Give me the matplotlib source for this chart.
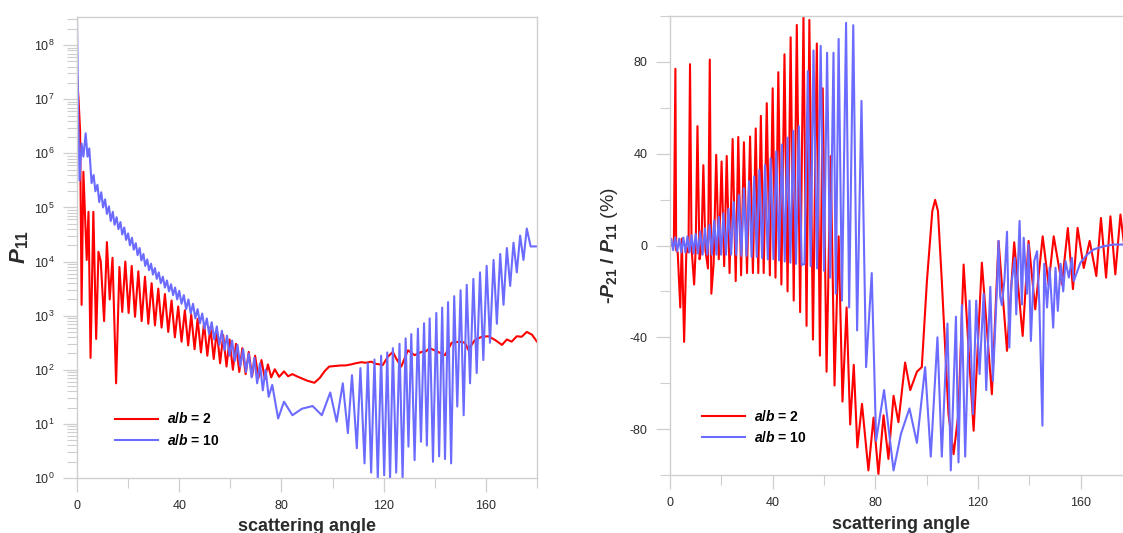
import numpy as np
import matplotlib
matplotlib.use("Agg")
import matplotlib.pyplot as plt
from matplotlib.ticker import LogLocator, MultipleLocator, NullFormatter

plt.rcParams['font.family'] = ['Liberation Sans', 'DejaVu Sans']
plt.rcParams['axes.unicode_minus'] = False
plt.rcParams['mathtext.fontset'] = 'custom'
plt.rcParams['mathtext.rm'] = 'Liberation Sans'
plt.rcParams['mathtext.it'] = 'Liberation Sans:italic'
plt.rcParams['mathtext.bf'] = 'Liberation Sans:bold'
plt.rcParams['mathtext.bfit'] = 'Liberation Sans:bold:italic'

# ---------------- data ----------------
# Left panel: P11 (log10 values) versus scattering angle (deg)
red_p11_angle = [0, 0.6, 1.2, 1.8, 2.5, 3.8, 4.5, 5.3, 6.4, 7.5, 8.4, 9.3, 10.6, 11.7, 12.8, 13.9, 15.3,
                 16.6, 17.7, 18.9, 20.2, 21.4, 22.7, 24.0, 25.3, 26.6, 27.9, 29.2, 30.5, 31.8, 33.1, 34.4,
                 35.7, 37.0, 38.3, 39.6, 40.9, 42.2, 43.5, 44.7, 46.0, 47.2, 48.5, 49.7, 51.0, 52.2, 53.5,
                 54.7, 56.0, 57.2, 58.5, 59.7, 61.0, 62.2, 63.5, 64.7, 66.0, 67.2, 68.5, 69.7, 71.0, 72.2,
                 73.5, 74.7, 76.0, 77.4, 79.1, 81.0, 82.6, 84.3, 86, 88, 90, 92.9, 95, 97, 98.7, 101, 103.3,
                 105, 107.3, 109, 111.2, 113, 115.1, 117, 119.7, 121.6, 123.6, 125, 126.9, 129.5, 132.1,
                 134.8, 136.5, 138, 141.3, 144, 146.6, 149.8, 151.8, 153.1, 155.7, 158.4, 161, 163.6, 166.3,
                 168.2, 170.1, 172.1, 174, 176, 178, 180]
red_p11_log = [7.45, 7.0, 6.43, 3.2, 5.66, 4.03, 4.92, 2.22, 4.92, 2.57, 4.18, 4.0, 2.9, 4.36, 3.3, 4.07, 1.75,
               3.9, 3.07, 4.0, 3.05, 3.92, 2.98, 3.82, 2.9, 3.72, 2.85, 3.6, 2.82, 3.5, 2.78, 3.4,
               2.7, 3.28, 2.6, 3.17, 2.52, 3.1, 2.45, 3.02, 2.38, 2.94, 2.32, 2.86, 2.26, 2.79, 2.2,
               2.72, 2.12, 2.64, 2.06, 2.56, 2.0, 2.48, 1.96, 2.4, 1.92, 2.33, 1.88, 2.26, 1.85, 2.18,
               1.83, 2.1, 1.86, 2.01, 1.87, 1.97, 1.88, 1.92, 1.88, 1.84, 1.8, 1.76, 1.85, 1.98, 2.06, 2.07, 2.08,
               2.08, 2.1, 2.12, 2.14, 2.13, 2.15, 2.11, 2.09, 2.24, 2.33, 2.2, 2.06, 2.36, 2.27,
               2.33, 2.34, 2.4, 2.33, 2.27, 2.5, 2.52, 2.5, 2.37, 2.55, 2.61, 2.62, 2.55, 2.46,
               2.56, 2.52, 2.62, 2.61, 2.7, 2.65, 2.52]

blue_p11_angle = [0, 0.5, 1.0, 1.8, 2.5, 3.4, 4.1, 4.8, 5.7, 6.5, 7.2, 8.0, 8.7, 9.5, 10.2, 11.0, 11.7, 12.5,
                  13.2, 14.0, 14.7, 15.5, 16.2, 17.0, 17.7, 18.5, 19.2, 20.0, 20.7, 21.5, 22.2, 23.0, 23.7,
                  24.5, 25.2, 26.0, 26.7, 27.5, 28.2, 29.0, 29.7, 30.5, 31.2, 32.0, 32.8, 33.6, 34.4, 35.2,
                  36.0, 36.8, 37.6, 38.4, 39.2, 40.0, 40.9, 41.8, 42.7, 43.6, 44.5, 45.4, 46.3, 47.2, 48.1,
                  49.0, 49.9, 50.8, 51.7, 52.7, 53.7, 54.7, 55.7, 56.7, 57.7, 58.7, 59.7, 60.7, 61.7, 62.8,
                  63.9, 65.0, 66.1, 67.2, 68.3, 69.4, 70.5, 71.6, 72.7, 73.8, 75.0, 76.4, 78.7, 81.0, 84.3,
                  88.0, 92.2, 95.8, 99.1, 101.6, 104.0, 106.0, 107.6, 109.5, 110.9, 112.5, 113.8, 115.1,
                  116.4, 117.7, 119.0, 120.2, 121.4, 122.5, 123.6, 124.9, 126.2, 127.4, 128.6, 129.7, 130.8,
                  132.1, 133.4, 134.6, 135.8, 136.9, 138.0, 139.3, 140.6, 141.7, 142.9, 144.0, 145.2, 146.4,
                  147.6, 148.8, 150.1, 151.3, 152.5, 153.8, 155.1, 156.4, 157.7, 159.0, 160.3, 161.6, 163.0,
                  164.3, 165.6, 166.9, 168.2, 169.5, 170.8, 172.1, 173.4, 174.7, 176.0, 177.5, 180.0]
blue_p11_log = [8.5, 6.6, 5.5, 6.18, 5.94, 6.37, 5.94, 6.09, 5.45, 5.6, 5.3, 5.42, 5.1, 5.28, 5.0, 5.15, 4.88, 5.02,
                4.75, 4.92, 4.68, 4.82, 4.6, 4.73, 4.5, 4.63, 4.4, 4.52, 4.3, 4.44, 4.22, 4.34, 4.12,
                4.25, 4.02, 4.14, 3.92, 4.04, 3.84, 3.96, 3.76, 3.88, 3.68, 3.8, 3.6, 3.72, 3.52, 3.65,
                3.45, 3.58, 3.38, 3.52, 3.3, 3.46, 3.22, 3.38, 3.12, 3.3, 3.04, 3.22, 2.95, 3.12, 2.86,
                3.04, 2.76, 2.95, 2.66, 2.88, 2.56, 2.8, 2.46, 2.72, 2.36, 2.63, 2.26, 2.54, 2.16, 2.46,
                2.06, 2.38, 1.96, 2.3, 1.86, 2.22, 1.75, 2.12, 1.62, 2.0, 1.5, 1.72, 1.10, 1.41, 1.16,
                1.28, 1.33, 1.16, 1.58, 1.04, 1.75, 0.83, 1.9, 0.55, 2.03, 0.27, 2.12, 0.1,
                2.19, 0.0, 2.26, 0.05, 2.32, 0.0, 2.40, 0.1, 2.48, 0.0, 2.58, 0.58, 2.66,
                0.33, 2.76, 0.67, 2.86, 0.6, 2.95, 0.3, 3.05, 0.4, 3.15, 0.35, 3.25, 0.27,
                3.36, 1.32, 3.47, 1.16, 3.57, 1.75, 3.68, 1.94, 3.8, 2.18, 3.92, 2.5, 4.03,
                2.85, 4.14, 3.2, 4.25, 3.55, 4.35, 3.8, 4.48, 4.03, 4.61, 4.28, 4.28]

# Right panel: -P21/P11 (%) versus scattering angle (deg)
red_pol_angle = [0, 1.5, 2.1, 2.4, 3.0, 4.0, 4.6, 5.5, 6.4, 7.2, 7.8, 8.4, 9.4, 10.0, 10.7, 11.5, 12.2, 13.0,
                 13.8, 14.8, 15.5, 16.1, 17.0, 18.0, 19.0, 20.1, 21.1, 22.1, 23.2, 24.4, 25.6, 26.6, 27.7,
                 28.8, 30.0, 31.2, 32.3, 33.4, 34.4, 35.4, 36.5, 37.7, 38.9, 40.0, 41.1, 42.2, 43.4, 44.6,
                 45.8, 47.0, 48.2, 49.4, 50.7, 52.0, 53.2, 54.3, 55.7, 57.2, 58.4, 59.5, 61.0, 62.6, 64.1,
                 65.7, 67.2, 68.8, 70.2, 71.6, 73.0, 74.8, 77.3, 79.3, 81.2, 83.2, 85.1, 87.1, 89.0, 91.6,
                 93.6, 96.2, 98.1, 100.1, 102.2, 103.3, 104.4, 105.9, 108.5, 110.5, 112.4, 114.4, 116.3,
                 118.3, 121.5, 125.4, 128.0, 131.3, 134.1, 137.4, 139.7, 142.3, 145.2, 147.5, 149.5, 152.7,
                 155.0, 157.0, 158.8, 161.2, 163.5, 166.1, 167.9, 169.9, 171.6, 173.5, 175.5, 177.5]
red_pol = [0, 0, 77, -2, -3, -27, 3, -42, -1, -3, 79, -1, -17, -2, 52, -6, -2, 35,
           -2, -10, 81, -21, -8, 39.5, -6, 36.6, -9, 39, -12, 46.4, -15.5, 47.3, -13,
           45, -12, 47.5, -12, 51, -12, 56.5, -12, 62, -13, 68.5, -14, 75.5, -17, 83.3,
           -20, 90.7, -24, 96.1, -29, 100, -35, 98.3, -41, 88, -48, 68.5, -55, 38.9, -61,
           4, -68, -27, -78, -52, -88, -69, -98, -75, -99.6, -74, -93, -65.5, -77, -51,
           -63, -55, -53, -15.5, 15, 19.9, 15, -15.5, -73.4, -90.9, -73, -8.3, -44.5,
           -80.7, -7.5, -64.8, 2, -45.9, 1.4, -39.4, 2, -27.8, 4, -17, 4, -17,
           7.6, -19, 7.7, -9.8, 2, -13.3, 12, -14, 12.7, -12.6, 13.5, -5]

blue_pol_angle = [0, 0.5, 1.2, 2.0, 2.8, 3.6, 4.4, 5.2, 6.0, 6.8, 7.6, 8.4, 9.2, 10.0, 10.9, 11.8, 12.7,
                  13.6, 14.5, 15.4, 16.3, 17.2, 18.1, 19.0, 19.9, 20.8, 21.8, 22.8, 23.8, 24.8, 25.8, 26.8,
                  27.8, 28.8, 29.8, 30.8, 31.8, 32.8, 33.8, 34.8, 35.9, 37.0, 38.1, 39.2, 40.3, 41.4, 42.5,
                  43.6, 44.7, 45.8, 46.9, 48.0, 49.1, 50.2, 51.3, 52.4, 53.7, 54.8, 55.9, 57.3, 58.7, 60.0,
                  61.2, 62.4, 63.7, 64.6, 65.7, 67.0, 68.6, 69.8, 71.4, 72.9, 74.6, 76.4, 78.6, 80.3, 83.4,
                  87.1, 90.0, 93.3, 96.2, 99.4, 101.6, 104.2, 105.9, 108.1, 109.4, 111.4, 112.4, 113.7, 115.0,
                  116.7, 118.0, 119.3, 120.6, 122.2, 123.2, 124.8, 125.8, 127.4, 128.0, 128.6, 129.3, 130.3,
                  131.3, 132.2, 133.0, 134.3, 134.9, 136.2, 137.1, 137.8, 139.1, 139.7, 140.6, 141.9, 143.0,
                  143.9, 145.1, 145.8, 146.9, 147.9, 149.3, 150.2, 151.1, 152.2, 153.2, 154.1, 155.4, 156.6,
                  157.3, 159.9, 162.5, 165.1, 169.0, 172.8, 176.6, 180.0]
blue_pol = [0, 3, -2, 3.5, -2.5, 3, -3, 3.5, -3, 4, -3, 4.5, -3.5, 5, -3.5, 6, -4,
            7.5, -4, 9, -4, 11, -4, 12.5, -4, 14, -4, 16, -4, 19, -4, 22,
            -4.5, 25, -4.5, 28, -5, 30, -5, 33, -5.5, 35, -6, 38, -6, 41, -6.5,
            44, -7, 47, -7.5, 50, -8, 52, -8.5, -8, 76, -9, 85, -10, 87, -11,
            84, -14, 84, -21, 90, -24, 97, -27, 96, -37, 63, -53, -12, -85, -63,
            -98, -82, -71, -86, -53, -92, -40, -92, -34, -98, -31, -94.5, -26, -92,
            -24, -73.5, -24, -56, -21, -63, -18, -59, -18, 2, -22, -26, -15,
            6, -44.5, -17, -5.4, -30, 10.7, -25.7, 3.4, -21, 0.4, -41.6, -6.8, -2.5,
            -25.7, -78.5, -8, -27, -9.7, -35.8, -9.7, -28.5, -8, -20, -6.8, -14, -5.4,
            -15.5, -7.5, -4, -1.7, -0.3, 0.4, 0.4, 0.5]

left_yticks_exp = [0, 1, 2, 3, 4, 5, 6, 7, 8]
x_major_ticks = [0, 40, 80, 120, 160]
right_yticks = [-80, -40, 0, 40, 80]
legend_labels = [r'$\mathbfit{a}\mathbf{/}\mathbfit{b}$ = 2', r'$\mathbfit{a}\mathbf{/}\mathbfit{b}$ = 10']

# ---------------- styling ----------------
RED = '#ff0000'
BLUE = '#6b6bff'
GRAY = '#cfcfcf'
TXT = '#2b2b2b'

fig = plt.figure(figsize=(11.23, 5.33), dpi=100)
axL = fig.add_axes([77 / 1123, 55 / 533, 460 / 1123, 461 / 533])
axR = fig.add_axes([670 / 1123, 58 / 533, 462 / 1123, 459 / 533])


def style_axes(ax):
    for s in ax.spines.values():
        s.set_color(GRAY)
        s.set_linewidth(1.0)
    ax.tick_params(which='both', direction='out', color=GRAY, labelcolor=TXT, labelsize=9)
    ax.tick_params(which='major', length=10, width=0.9, pad=6)
    ax.tick_params(which='minor', length=7, width=0.8)


# Left panel
axL.plot(red_p11_angle, 10 ** np.array(red_p11_log), color=RED, lw=1.5, label=legend_labels[0])
axL.plot(blue_p11_angle, 10 ** np.array(blue_p11_log), color=BLUE, lw=1.5, label=legend_labels[1])
axL.set_yscale('log')
axL.set_xlim(0, 180)
axL.set_ylim(1, 10 ** 8.52)
axL.set_yticks([10.0 ** e for e in left_yticks_exp])
axL.yaxis.set_minor_locator(LogLocator(base=10, subs=np.arange(2, 10), numticks=20))
axL.yaxis.set_minor_formatter(NullFormatter())
axL.set_xticks(x_major_ticks)
axL.xaxis.set_minor_locator(MultipleLocator(20))
style_axes(axL)
axL.set_xlabel('scattering angle', fontsize=13, fontweight='bold', color=TXT)
axL.xaxis.set_label_coords(0.5, -0.086)
axL.set_ylabel(r'$\mathbfit{P}_{\mathbf{11}}$', fontsize=16, color=TXT)
axL.yaxis.set_label_coords(-0.1, 0.5)
axL.legend(loc='center left', bbox_to_anchor=(0.083, 0.105), frameon=False,
           prop={'weight': 'bold', 'size': 10}, handlelength=3.1, handletextpad=0.6,
           labelspacing=0.45, borderpad=0, borderaxespad=0)

# Right panel
axR.plot(red_pol_angle, red_pol, color=RED, lw=1.5, label=legend_labels[0])
axR.plot(blue_pol_angle, blue_pol, color=BLUE, lw=1.5, label=legend_labels[1])
axR.set_xlim(0, 180)
axR.set_ylim(-100, 100)
axR.set_xticks(x_major_ticks)
axR.xaxis.set_minor_locator(MultipleLocator(20))
axR.set_yticks(right_yticks)
axR.yaxis.set_minor_locator(MultipleLocator(20))
style_axes(axR)
axR.set_xlabel('scattering angle', fontsize=13, fontweight='bold', color=TXT)
axR.xaxis.set_label_coords(0.5, -0.09)
axR.set_ylabel('-' + r'$\mathbfit{P}_{\mathbf{21}}$' + ' / ' + r'$\mathbfit{P}_{\mathbf{11}}$'
               + r' $\mathrm{(\%)}$', fontsize=14, fontweight='bold', color=TXT)
axR.yaxis.set_label_coords(-0.108, 0.5)
axR.legend(loc='center left', bbox_to_anchor=(0.07, 0.105), frameon=False,
           prop={'weight': 'bold', 'size': 10}, handlelength=3.1, handletextpad=0.6,
           labelspacing=0.45, borderpad=0, borderaxespad=0)

fig.savefig('out.png', dpi=100)
